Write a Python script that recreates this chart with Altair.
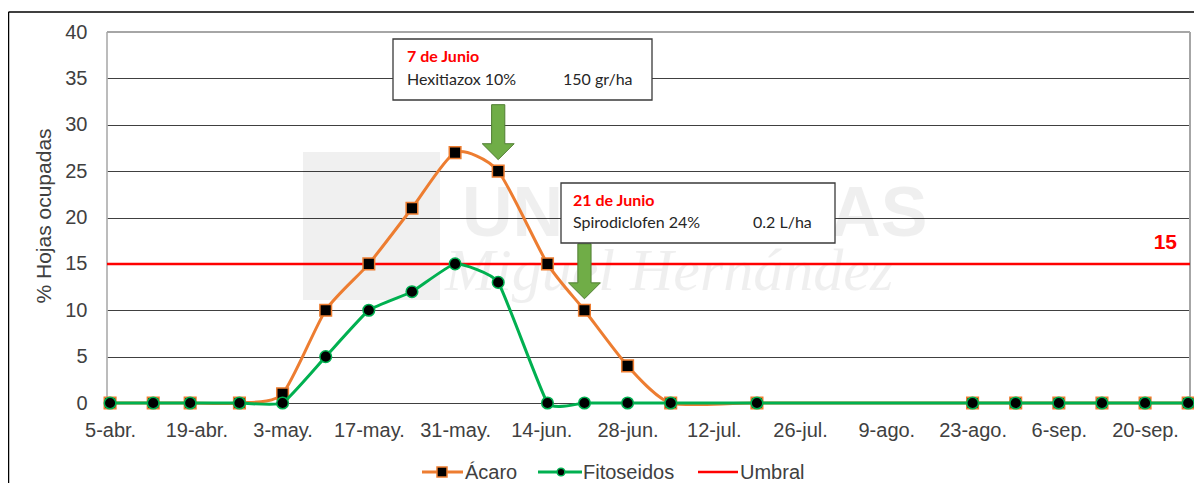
import altair as alt
import pandas as pd

# ---------------- data ----------------
FECHAS = ["2021-04-05", "2021-04-12", "2021-04-18", "2021-04-26", "2021-05-03",
          "2021-05-10", "2021-05-17", "2021-05-24", "2021-05-31", "2021-06-07",
          "2021-06-15", "2021-06-21", "2021-06-28", "2021-07-05", "2021-07-19",
          "2021-08-23", "2021-08-30", "2021-09-06", "2021-09-13", "2021-09-20",
          "2021-09-27"]
ACARO = [0, 0, 0, 0, 1, 10, 15, 21, 27, 25, 15, 10, 4, 0, 0, 0, 0, 0, 0, 0, 0]
FITOSEIDOS = [0, 0, 0, 0, 0, 5, 10, 12, 15, 13, 0, 0, 0, 0, 0, 0, 0, 0, 0, 0, 0]
UMBRAL = 15

TICK_FECHAS = ["2021-04-05", "2021-04-19", "2021-05-03", "2021-05-17", "2021-05-31",
               "2021-06-14", "2021-06-28", "2021-07-12", "2021-07-26", "2021-08-09",
               "2021-08-23", "2021-09-06", "2021-09-20"]
MESES = ["ene", "feb", "mar", "abr", "may", "jun", "jul", "ago", "sep", "oct", "nov", "dic"]
Y_TICKS = [0, 5, 10, 15, 20, 25, 30, 35, 40]

APLICACIONES = ["2021-06-07", "2021-06-21"]
APL_FECHA_TXT = ["7 de Junio", "21 de Junio"]
APL_PRODUCTO = ["Hexitiazox 10%", "Spirodiclofen 24%"]
APL_DOSIS = ["150 gr/ha", "0.2 L/ha"]
SERIES = ["Ácaro", "Fitoseidos", "Umbral"]
Y_TITULO = "% Hojas ocupadas"
MARCA_AGUA = ["UNIVERSITAS", "Miguel Hernández"]

# ---------------- style ----------------
ORANGE = "#ED7D31"
GREEN = "#00B050"
RED = "#FF0000"
ARROW = "#70AD47"
ARROW_EDGE = "#507E32"
TXT = "#404040"
GRID = "#404040"
BORDER = "#A6A6A6"
FONT = "Liberation Sans"
AFONT = "Lato"

W, H = 1083, 371
OX, OY = 107, 32  # page position of the plot origin


def px(x):
    return x - OX


def py(y):
    return y - OY


def ms(s):
    return int(pd.Timestamp(s, tz="UTC").timestamp() * 1000)


one = pd.DataFrame({"k": [0]})

x_scale = alt.Scale(type="utc", domain=[ms("2021-04-04T12:00"), ms("2021-09-27T07:00")])
label_expr = ("utcdate(datum.value) + '-' + ["
              + ",".join("'%s'" % m for m in MESES)
              + "][utcmonth(datum.value)] + '.'")
x_axis = alt.Axis(values=[ms(f) for f in TICK_FECHAS], labelExpr=label_expr, title=None,
                  ticks=False, grid=False, domain=True, domainColor=GRID, domainWidth=1,
                  labelFont=FONT, labelFontSize=20, labelColor=TXT, labelPadding=17,
                  labelOverlap=False, labelFlush=False)
y_scale = alt.Scale(domain=[0, 40], nice=False)
y_axis = alt.Axis(values=Y_TICKS, title=None, ticks=False, domain=False, grid=True,
                  gridColor=GRID, gridWidth=1, labelFont=FONT, labelFontSize=20,
                  labelColor=TXT, labelPadding=20)

X = alt.X("fecha:T", scale=x_scale, axis=x_axis)


def Y(field):
    return alt.Y(field, scale=y_scale, axis=y_axis)


df = pd.DataFrame({"fecha": FECHAS, "acaro": ACARO, "fito": FITOSEIDOS})
lookup = dict(zip(FECHAS, ACARO))
arrows = pd.DataFrame({"fecha": APLICACIONES,
                       "yf": [lookup[f] + 4.2 for f in APLICACIONES]})


def texto(txt, x, y, size, color, weight="normal", font=FONT, align="left",
          baseline="alphabetic", style="normal", angle=0, opacity=1.0):
    return alt.Chart(pd.DataFrame({"t": [txt]})).mark_text(
        align=align, baseline=baseline, font=font, fontSize=size, fontWeight=weight,
        fontStyle=style, color=color, angle=angle, opacity=opacity
    ).encode(x=alt.value(x), y=alt.value(y), text="t:N")


def hrule(x1, x2, y, color, width):
    return alt.Chart(one).mark_rule(color=color, strokeWidth=width).encode(
        x=alt.value(x1), x2=alt.value(x2), y=alt.value(y))


def vrule(x, y1, y2, color, width):
    return alt.Chart(one).mark_rule(color=color, strokeWidth=width).encode(
        x=alt.value(x), y=alt.value(y1), y2=alt.value(y2))


def caja(x1, y1, x2, y2):
    return alt.Chart(one).mark_rect(fill="white", stroke="#3A3A3A", strokeWidth=1.3).encode(
        x=alt.value(x1), x2=alt.value(x2), y=alt.value(y1), y2=alt.value(y2))


layers = []

# watermark
layers.append(alt.Chart(one).mark_rect(fill="#000000", opacity=0.06).encode(
    x=alt.value(px(303)), x2=alt.value(px(440)), y=alt.value(py(152)), y2=alt.value(py(300))))
layers.append(texto(MARCA_AGUA[0], px(462), py(236), 70, "#000000", weight="bold", opacity=0.06))
layers.append(texto(MARCA_AGUA[1], px(445), py(290), 60, "#000000", font="Liberation Serif",
                    style="italic", opacity=0.06))

# chart-area frame (left & top)
layers.append(vrule(px(8.5), py(12), py(520), "#000000", 1.5))
layers.append(hrule(px(8.5), px(1215), py(12), "#000000", 1.5))
# plot-area border
layers.append(hrule(0, W, 0, BORDER, 2))
layers.append(vrule(0, 0, H, BORDER, 1.5))
layers.append(vrule(W, 0, H, BORDER, 2))

# threshold
umbral_df = pd.DataFrame({"u": [UMBRAL], "lab": [str(UMBRAL)]})
layers.append(alt.Chart(umbral_df).mark_rule(color=RED, strokeWidth=2.5).encode(y=Y("u:Q")))
layers.append(alt.Chart(umbral_df).mark_text(
    align="right", baseline="alphabetic", font=FONT, fontSize=21, fontWeight="bold",
    color=RED, dy=-15).encode(x=alt.value(px(1177)), y=Y("u:Q"), text="lab:N"))

# series
layers.append(alt.Chart(df).mark_line(color=ORANGE, strokeWidth=3, interpolate="cardinal",
                                      tension=0.35).encode(x=X, y=Y("acaro:Q")))
layers.append(alt.Chart(df).mark_point(shape="square", filled=True, fill="#000000",
                                       stroke=ORANGE, strokeWidth=1.5, size=135,
                                       opacity=1).encode(x=X, y=Y("acaro:Q")))
layers.append(alt.Chart(df).mark_line(color=GREEN, strokeWidth=3, interpolate="cardinal",
                                      tension=0.6).encode(x=X, y=Y("fito:Q")))
layers.append(alt.Chart(df).mark_point(shape="circle", filled=True, fill="#000000",
                                       stroke=GREEN, strokeWidth=1.5, size=135,
                                       opacity=1).encode(x=X, y=Y("fito:Q")))

# application arrows
arrow_path = "M-0.24,-1L0.24,-1L0.24,0.42L0.58,0.42L0,1L-0.58,0.42L-0.24,0.42Z"
layers.append(alt.Chart(arrows).mark_point(shape=arrow_path, filled=True, fill=ARROW,
                                           stroke=ARROW_EDGE, strokeWidth=1, size=3025,
                                           opacity=1).encode(x=X, y=Y("yf:Q")))

# annotation boxes
layers.append(caja(px(393), py(39), px(652), py(100)))
layers.append(texto(APL_FECHA_TXT[0], px(407), py(62), 16, RED, weight="bold", font=AFONT))
layers.append(texto(APL_PRODUCTO[0], px(407), py(85), 16, "#262626", font=AFONT))
layers.append(texto(APL_DOSIS[0], px(563), py(85), 16, "#262626", font=AFONT))
layers.append(caja(px(561), py(183), px(835), py(243)))
layers.append(texto(APL_FECHA_TXT[1], px(573), py(206), 16, RED, weight="bold", font=AFONT))
layers.append(texto(APL_PRODUCTO[1], px(573), py(228), 16, "#262626", font=AFONT))
layers.append(texto(APL_DOSIS[1], px(753), py(228), 16, "#262626", font=AFONT))

# y title
layers.append(texto(Y_TITULO, px(45), py(216), 21, TXT, align="center", baseline="middle",
                    angle=270))

# legend
LY = py(472)
layers.append(hrule(px(422), px(463), LY, ORANGE, 3))
layers.append(alt.Chart(one).mark_point(shape="square", filled=True, fill="#000000",
                                        stroke=ORANGE, strokeWidth=1.5, size=100,
                                        opacity=1).encode(x=alt.value(px(442)), y=alt.value(LY)))
layers.append(texto(SERIES[0], px(465), py(479), 20, TXT))
layers.append(hrule(px(538), px(582), LY, GREEN, 3))
layers.append(alt.Chart(one).mark_point(shape="circle", filled=True, fill="#000000",
                                        stroke=GREEN, strokeWidth=1.5, size=60,
                                        opacity=1).encode(x=alt.value(px(561)), y=alt.value(LY)))
layers.append(texto(SERIES[1], px(583), py(479), 20, TXT))
layers.append(hrule(px(698), px(738), LY, RED, 2.5))
layers.append(texto(SERIES[2], px(740), py(479), 20, TXT))

chart = alt.layer(*layers).properties(
    width=W, height=H,
    padding={"left": OX - 8, "top": OY - 8, "right": 4, "bottom": 80},
    autosize=alt.AutoSizeParams(type="none"),
    background="white",
).configure_view(stroke=None)

chart.save("out.html", embed_options={"renderer": "svg", "actions": False})
